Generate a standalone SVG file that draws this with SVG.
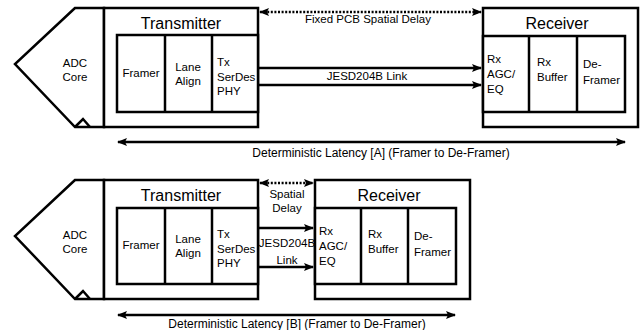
<svg xmlns="http://www.w3.org/2000/svg" width="643" height="330" viewBox="0 0 643 330">
<style>
.box{fill:#fff;stroke:#000;stroke-width:2.5}
.ln{fill:none;stroke:#000;stroke-width:2.5}
.dot{fill:none;stroke:#000;stroke-width:2.5;stroke-dasharray:2 1.6}
text{font-family:"Liberation Sans",Arial,sans-serif;fill:#000}
.t{font-size:16px;text-anchor:middle}
.s{font-size:11.5px}
.c{text-anchor:middle}
.l{font-size:12px;text-anchor:middle}
</style>
<defs>
<marker id="ah" viewBox="0 0 10 8" refX="9" refY="4" markerWidth="10" markerHeight="8" markerUnits="userSpaceOnUse" orient="auto-start-reverse">
<path d="M0,0 L10,4 L0,8 L2,4 z" fill="#000"/>
</marker>
</defs>

<g id="top">
<g id="adcA">
<polygon class="box" points="75,8 15,64 75,127 104,127 104,8"/>
<polyline class="ln" points="75,127 83,119 90,127"/>
<text class="s c" x="75" y="67">ADC</text>
<text class="s c" x="75" y="81">Core</text>
</g>
<g id="txA">
<rect class="box" x="104" y="8" width="154" height="119"/>
<text class="t" x="181" y="29">Transmitter</text>
<rect class="box" x="117" y="35" width="141" height="77"/>
<line class="ln" x1="165" y1="35" x2="165" y2="112"/>
<line class="ln" x1="212" y1="35" x2="212" y2="112"/>
<text class="s c" x="141" y="77">Framer</text>
<text class="s c" x="188" y="71">Lane</text>
<text class="s c" x="188" y="85">Align</text>
<text class="s" x="217" y="66">Tx</text>
<text class="s" x="217" y="81">SerDes</text>
<text class="s" x="217" y="95">PHY</text>
</g>
<g id="rxA">
<rect class="box" x="483" y="8" width="155" height="119"/>
<text class="t" x="557" y="29">Receiver</text>
<rect class="box" x="483" y="36" width="142" height="76"/>
<line class="ln" x1="529" y1="36" x2="529" y2="112"/>
<line class="ln" x1="577" y1="36" x2="577" y2="112"/>
<text class="s" x="487" y="63">Rx</text>
<text class="s" x="487" y="78">AGC/</text>
<text class="s" x="487" y="93">EQ</text>
<text class="s" x="537" y="66">Rx</text>
<text class="s" x="537" y="81">Buffer</text>
<text class="s" x="583" y="68">De-</text>
<text class="s" x="583" y="84">Framer</text>
</g>
<g id="connA">
<line class="dot" x1="260" y1="12" x2="481" y2="12" marker-start="url(#ah)" marker-end="url(#ah)"/>
<line class="ln" x1="258" y1="68" x2="481" y2="68" marker-end="url(#ah)"/>
<line class="ln" x1="258" y1="85" x2="481" y2="85" marker-end="url(#ah)"/>
<line class="ln" x1="118" y1="142" x2="625" y2="142" marker-start="url(#ah)" marker-end="url(#ah)"/>
<text class="s c" x="368" y="23">Fixed PCB Spatial Delay</text>
<text class="s c" x="367" y="80">JESD204B Link</text>
<text class="l" x="381" y="157">Deterministic Latency [A] (Framer to De-Framer)</text>
</g>
</g>

<g id="bottom">
<g id="adcB">
<polygon class="box" points="75,180 15,236 75,299 104,299 104,180"/>
<polyline class="ln" points="75,299 83,291 90,299"/>
<text class="s c" x="75" y="239">ADC</text>
<text class="s c" x="75" y="253">Core</text>
</g>
<g id="txB">
<rect class="box" x="104" y="180" width="154" height="119"/>
<text class="t" x="181" y="201">Transmitter</text>
<rect class="box" x="117" y="208" width="141" height="76"/>
<line class="ln" x1="165" y1="208" x2="165" y2="284"/>
<line class="ln" x1="212" y1="208" x2="212" y2="284"/>
<text class="s c" x="141" y="249">Framer</text>
<text class="s c" x="188" y="243">Lane</text>
<text class="s c" x="188" y="257">Align</text>
<text class="s" x="217" y="238">Tx</text>
<text class="s" x="217" y="253">SerDes</text>
<text class="s" x="217" y="267">PHY</text>
</g>
<g id="rxB">
<rect class="box" x="315" y="180" width="155" height="119"/>
<text class="t" x="389" y="201">Receiver</text>
<rect class="box" x="315" y="208" width="141" height="76"/>
<line class="ln" x1="361" y1="208" x2="361" y2="284"/>
<line class="ln" x1="408" y1="208" x2="408" y2="284"/>
<text class="s" x="319" y="235">Rx</text>
<text class="s" x="319" y="250">AGC/</text>
<text class="s" x="319" y="265">EQ</text>
<text class="s" x="368" y="238">Rx</text>
<text class="s" x="368" y="253">Buffer</text>
<text class="s" x="414" y="240">De-</text>
<text class="s" x="414" y="256">Framer</text>
</g>
<g id="connB">
<line class="dot" x1="260" y1="183" x2="313" y2="183" marker-start="url(#ah)" marker-end="url(#ah)"/>
<line class="ln" x1="258" y1="228" x2="313" y2="228" marker-end="url(#ah)"/>
<line class="ln" x1="258" y1="267" x2="313" y2="267" marker-end="url(#ah)"/>
<line class="ln" x1="118" y1="315" x2="455" y2="315" marker-start="url(#ah)" marker-end="url(#ah)"/>
<text class="s c" x="287" y="198">Spatial</text>
<text class="s c" x="287" y="212">Delay</text>
<text class="s c" x="287" y="247">JESD204B</text>
<text class="s c" x="287" y="264">Link</text>
<text class="l" x="297" y="328">Deterministic Latency [B] (Framer to De-Framer)</text>
</g>
</g>
</svg>
